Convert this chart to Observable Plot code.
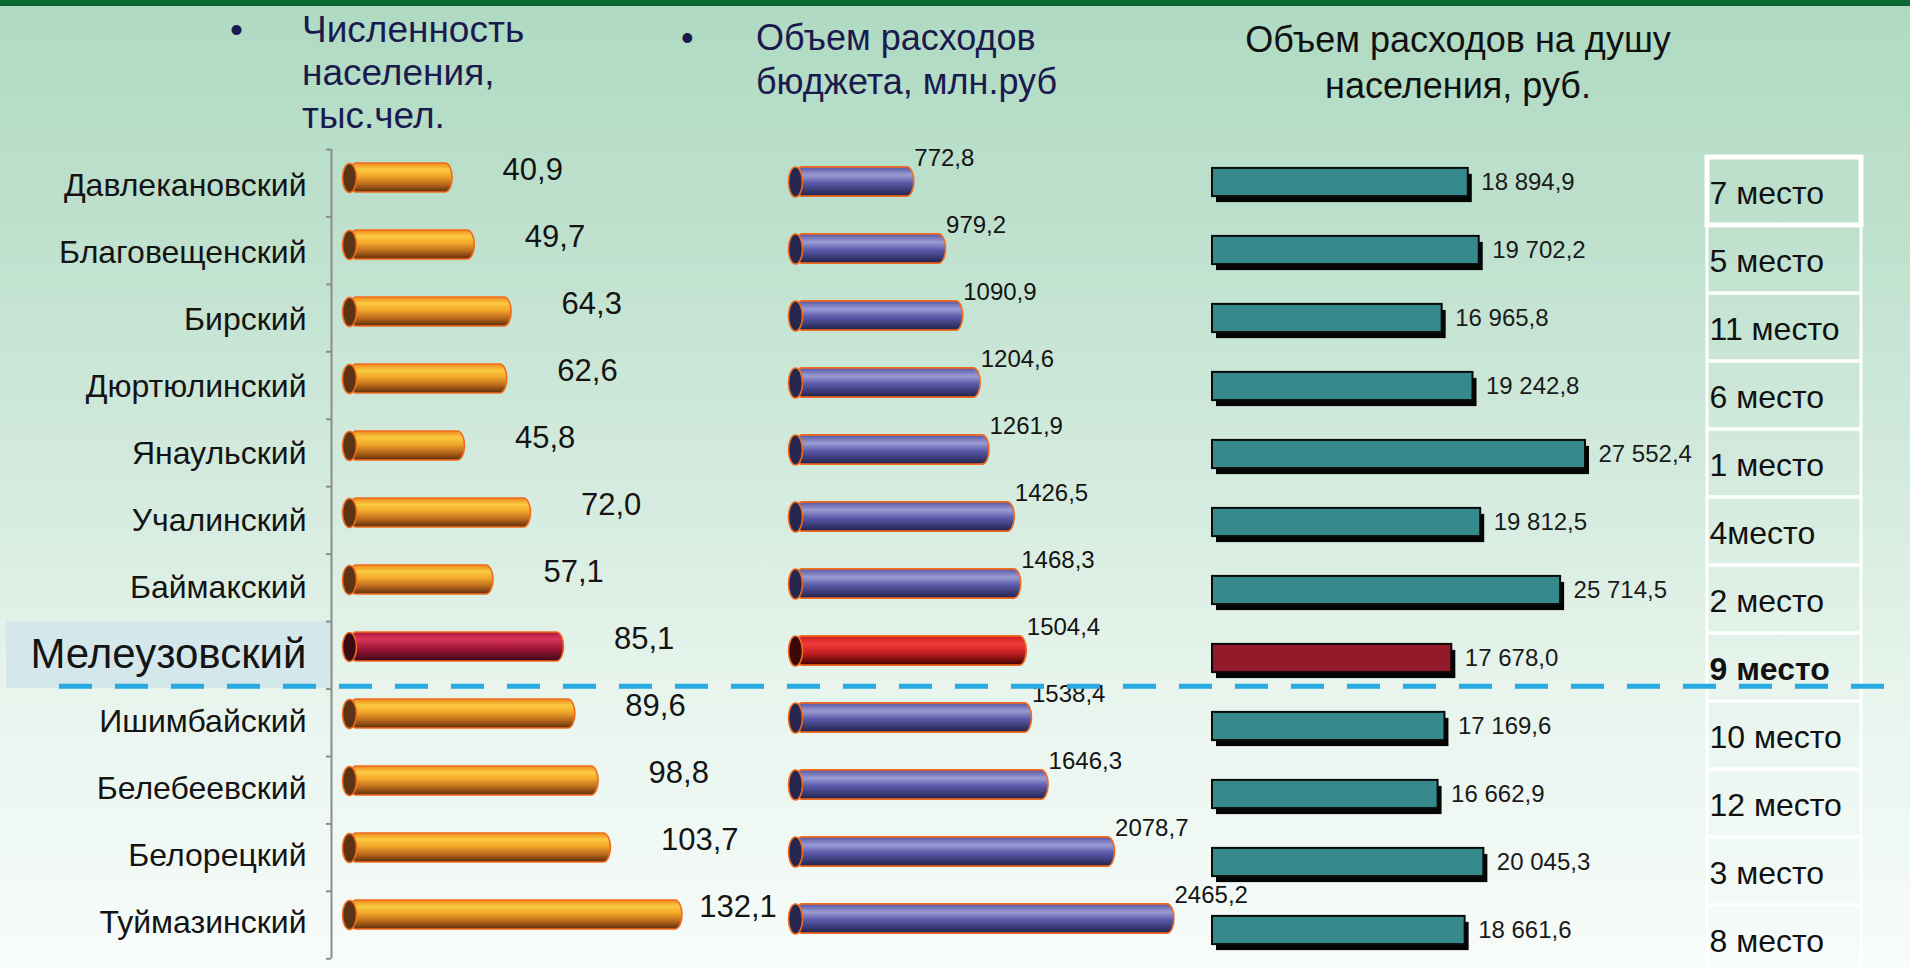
<!DOCTYPE html>
<html>
<head>
<meta charset="utf-8">
<script src="https://cdn.jsdelivr.net/npm/d3@7"></script>
<script src="https://cdn.jsdelivr.net/npm/@observablehq/plot@0.6"></script>
<style>
  html, body { margin: 0; padding: 0; overflow: hidden; background: #ffffff; }
  #stage {
    position: relative; width: 1910px; height: 969px; overflow: hidden;
    font-family: "Liberation Sans", Arial, sans-serif;
    background: linear-gradient(to bottom, #afdac2 0%, #bde0cc 22%, #d2eadd 48%, #e6f4ec 70%, #f8fcfa 100%);
  }
  #topband { position: absolute; left: 0; top: 0; width: 1910px; height: 6px; background: #0c6934; }
  .title { position: absolute; white-space: nowrap; }
  .layer { position: absolute; left: 0; top: 0; }
</style>
</head>
<body>
<div id="stage">
  <div id="topband"></div>
  <svg width="0" height="0" style="position:absolute;left:0;top:0">
    <defs>
      <linearGradient id="gOrange" x1="0" y1="0" x2="0" y2="1">
        <stop offset="0" stop-color="#ee8a1e"/>
        <stop offset="0.22" stop-color="#fbca40"/>
        <stop offset="0.45" stop-color="#f2a829"/>
        <stop offset="0.75" stop-color="#b5651b"/>
        <stop offset="1" stop-color="#5a2c0a"/>
      </linearGradient>
      <linearGradient id="gCrimson" x1="0" y1="0" x2="0" y2="1">
        <stop offset="0" stop-color="#b0183a"/>
        <stop offset="0.25" stop-color="#d8345a"/>
        <stop offset="0.55" stop-color="#a3183a"/>
        <stop offset="1" stop-color="#3a0512"/>
      </linearGradient>
      <linearGradient id="gBlue" x1="0" y1="0" x2="0" y2="1">
        <stop offset="0" stop-color="#5454a4"/>
        <stop offset="0.28" stop-color="#9c9cd2"/>
        <stop offset="0.55" stop-color="#5a5aab"/>
        <stop offset="1" stop-color="#21214a"/>
      </linearGradient>
      <linearGradient id="gRed" x1="0" y1="0" x2="0" y2="1">
        <stop offset="0" stop-color="#c81e1e"/>
        <stop offset="0.28" stop-color="#f23a3a"/>
        <stop offset="0.6" stop-color="#c02020"/>
        <stop offset="1" stop-color="#3e0000"/>
      </linearGradient>
    </defs>
  </svg>
</div>
<script>
// ---------------- data ----------------
const districts = ["Давлекановский", "Благовещенский", "Бирский", "Дюртюлинский", "Янаульский", "Учалинский",
  "Баймакский", "Мелеузовский", "Ишимбайский", "Белебеевский", "Белорецкий", "Туймазинский"];
const population = [40.9, 49.7, 64.3, 62.6, 45.8, 72.0, 57.1, 85.1, 89.6, 98.8, 103.7, 132.1];
const budget = [772.8, 979.2, 1090.9, 1204.6, 1261.9, 1426.5, 1468.3, 1504.4, 1538.4, 1646.3, 2078.7, 2465.2];
const perCapita = [18894.9, 19702.2, 16965.8, 19242.8, 27552.4, 19812.5, 25714.5, 17678.0, 17169.6, 16662.9, 20045.3, 18661.6];
const rankLabels = ["7 место", "5 место", "11 место", "6 место", "1 место", "4место",
  "2 место", "9 место", "10 место", "12 место", "3 место", "8 место"];
const highlighted = "Мелеузовский";
const title1 = ["Численность", "населения,", "тыс.чел."];
const title2 = ["Объем расходов", "бюджета, млн.руб"];
const title3 = ["Объем расходов на душу", "населения, руб."];

// ---------------- helpers ----------------
const W = 1910, H = 969;
const rows = districts.map((name, i) => ({
  name, population: population[i], budget: budget[i], perCapita: perCapita[i], rank: rankLabels[i]
}));
const normal = rows.filter(d => d.name !== highlighted);
const hi = rows.filter(d => d.name === highlighted);

const ru = d3.formatLocale({decimal: ",", thousands: "\u00a0", grouping: [3], currency: ["", ""]});
const fmtDec = d => d3.format(".1f")(d).replace(".", ",");
const fmtGroup = ru.format(",.1f");

function ellipseSymbol(rx, ry) {
  const k = 0.5522847;
  return {
    draw(ctx) {
      ctx.moveTo(rx, 0);
      ctx.bezierCurveTo(rx, k * ry, k * rx, ry, 0, ry);
      ctx.bezierCurveTo(-k * rx, ry, -rx, k * ry, -rx, 0);
      ctx.bezierCurveTo(-rx, -k * ry, -k * rx, -ry, 0, -ry);
      ctx.bezierCurveTo(k * rx, -ry, rx, -k * ry, rx, 0);
      ctx.closePath();
    }
  };
}

const baseStyle = {background: "transparent", maxWidth: "none", overflow: "visible",
  fontFamily: "'Liberation Sans', Arial, sans-serif"};
const stage = document.getElementById("stage");
function addLayer(svg) { svg.classList.add("layer"); stage.appendChild(svg); }

function cylinders(data, key, grad, capFill, inset, rx, ry) {
  return [
    Plot.barX(data, {x: key, y: "name", fill: grad, stroke: "#f26b1d", strokeWidth: 1.6,
      rx, ry, insetTop: inset, insetBottom: inset}),
    Plot.dot(data, {x: 0, y: "name", symbol: ellipseSymbol(rx, ry), fill: capFill,
      stroke: "#f26b1d", strokeWidth: 1.6})
  ];
}

// ---------------- titles ----------------
function addTitle(lines, css, bullet, bulletLeft) {
  const div = document.createElement("div");
  div.className = "title";
  Object.assign(div.style, css);
  div.innerHTML = lines.join("<br>");
  stage.appendChild(div);
  if (bullet) {
    const b = document.createElement("div");
    b.className = "title";
    Object.assign(b.style, css, {left: bulletLeft + "px", transform: "none", textAlign: "left"});
    b.textContent = "•";
    stage.appendChild(b);
  }
}
addTitle(title1, {left: "302px", top: "8px", fontSize: "37px", lineHeight: "43px", color: "#1b1a4e"}, true, 230);
addTitle(title2, {left: "756px", top: "16px", fontSize: "36px", lineHeight: "44px", color: "#1b1a4e"}, true, 681);
addTitle(title3, {left: "1458px", top: "17px", fontSize: "36px", lineHeight: "46px", color: "#111111",
  transform: "translateX(-50%)", textAlign: "center"}, false);

// ---------------- labels column ----------------
addLayer(Plot.plot({
  width: W, height: H, marginLeft: 6, marginRight: W - 333, marginTop: 0, marginBottom: 0,
  style: baseStyle,
  y: {type: "band", domain: districts, range: [149, 958.3], padding: 0, axis: null},
  marks: [
    Plot.cell(hi, {y: "name", fill: "#d4e8ec"}),
    Plot.text(rows, {y: "name", text: "name", frameAnchor: "right", textAnchor: "end", dx: -27,
      fontSize: d => d.name === highlighted ? 42 : 32, fill: "#141414"})
  ]
}));

// ---------------- category axis line ----------------
addLayer(Plot.plot({
  width: W, height: H, margin: 0, style: baseStyle,
  x: {type: "point", domain: ["tick", "axis"], range: [323, 333], axis: null},
  y: {domain: [0, districts.length], range: [149, 958.3], axis: null},
  marks: [
    Plot.ruleY(d3.range(districts.length + 1), {y: d => d, x1: () => "tick", x2: () => "axis",
      stroke: "#8c8c8c", strokeWidth: 2}),
    Plot.ruleX(["axis"], {x: d => d, y1: () => 0, y2: () => districts.length, stroke: "#8c8c8c", strokeWidth: 2})
  ]
}));

// ---------------- panel 1: population ----------------
const popMax = d3.max(population);
addLayer(Plot.plot({
  width: W, height: H, margin: 0, style: baseStyle,
  x: {domain: [0, popMax], range: [349, 682], axis: null},
  y: {type: "band", domain: districts, range: [140.4, 951.6], padding: 0, axis: null},
  marks: [
    ...cylinders(normal, "population", "url(#gOrange)", "#5c3414", 19, 7, 14.5),
    ...cylinders(hi, "population", "url(#gCrimson)", "#3a0a14", 19, 7, 14.5),
    // labels: placed right of the bar end, but kept clear of the next panel
    Plot.text(rows, {x: d => Math.min(d.population, popMax * 0.9), y: "name", text: d => fmtDec(d.population),
      textAnchor: "start", dx: 50, dy: -8, fontSize: 31, fill: "#141414"})
  ]
}));

// ---------------- panel 2: budget ----------------
addLayer(Plot.plot({
  width: W, height: H, margin: 0, style: baseStyle,
  x: {domain: [0, d3.max(budget)], range: [795, 1174], axis: null},
  y: {type: "band", domain: districts, range: [144, 956.4], padding: 0, axis: null},
  marks: [
    ...cylinders(normal, "budget", "url(#gBlue)", "#26264e", 18.85, 7, 15),
    ...cylinders(hi, "budget", "url(#gRed)", "#3a0808", 18.85, 7, 15),
    Plot.text(rows, {x: "budget", y: "name", text: d => fmtDec(d.budget), textAnchor: "start",
      dx: 0, dy: -24, fontSize: 24, fill: "#141414"})
  ]
}));

// ---------------- panel 3: per capita ----------------
addLayer(Plot.plot({
  width: W, height: H, margin: 0, style: baseStyle,
  x: {domain: [0, d3.max(perCapita)], range: [1212, 1585], axis: null},
  y: {type: "band", domain: districts, range: [142.2, 969], padding: 0, axis: null},
  marks: [
    Plot.barX(rows, {x: "perCapita", y: "name", fill: "#050505", dx: 4, dy: 6,
      insetTop: 19.9, insetBottom: 19.9}),
    Plot.barX(normal, {x: "perCapita", y: "name", fill: "#378a8c", stroke: "#0a0a0a", strokeWidth: 2,
      insetTop: 19.9, insetBottom: 19.9}),
    Plot.barX(hi, {x: "perCapita", y: "name", fill: "#93192b", stroke: "#0a0a0a", strokeWidth: 2,
      insetTop: 19.9, insetBottom: 19.9}),
    Plot.text(rows, {x: "perCapita", y: "name", text: d => fmtGroup(d.perCapita), textAnchor: "start",
      dx: 13, dy: 0, fontSize: 24, fill: "#1a1a1a"})
  ]
}));

// ---------------- rank column ----------------
addLayer(Plot.plot({
  width: W, height: H, marginLeft: 1707, marginRight: W - 1861, marginTop: 0, marginBottom: 0,
  style: baseStyle,
  y: {type: "band", domain: districts, range: [156, 974.4], padding: 0, axis: null},
  marks: [
    Plot.cell(rows, {y: "name", fill: "none", stroke: "#ffffff", strokeWidth: 3}),
    Plot.cell(rows.slice(0, 1), {y: "name", fill: "none", stroke: "#ffffff", strokeWidth: 5}),
    Plot.text(normal, {y: "name", text: "rank", frameAnchor: "left", textAnchor: "start", dx: 2, dy: 2,
      fontSize: 32, fill: "#111111"}),
    Plot.text(hi, {y: "name", text: "rank", frameAnchor: "left", textAnchor: "start", dx: 2, dy: 2,
      fontSize: 32, fontWeight: "bold", fill: "#111111"})
  ]
}));

// ---------------- dashed separator ----------------
const labelStep = (958.3 - 149) / districts.length;
addLayer(Plot.plot({
  width: W, height: H, marginLeft: 59, marginRight: 4, marginTop: 0, marginBottom: 0, style: baseStyle,
  y: {type: "band", domain: districts, range: [149, 958.3], padding: 0, axis: null},
  marks: [
    Plot.ruleY(hi, {y: "name", dy: labelStep / 2 - 2.5, stroke: "#29a8e0", strokeWidth: 5,
      strokeDasharray: "33 23"})
  ]
}));
</script>
</body>
</html>
